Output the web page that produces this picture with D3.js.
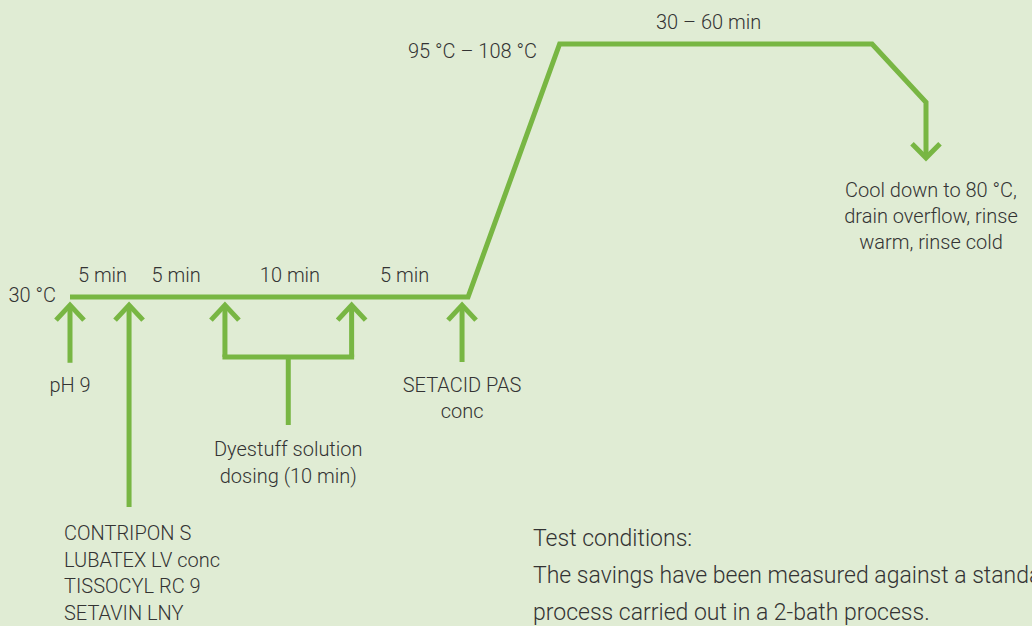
<!DOCTYPE html>
<html>
<head>
<meta charset="utf-8">
<script src="https://cdn.jsdelivr.net/npm/d3@7"></script>
<style>
  html, body { margin: 0; padding: 0; background: #e0ecd4; }
  svg text { font-family: Roboto, "Open Sans", sans-serif; font-weight: 300; fill: #333; }
</style>
</head>
<body>
<div id="chart"></div>
<script>
const W = 1032, H = 626;

// schematic process profile (x: stage position 0-100, y: level 0 = 30 °C, 100 = peak)
const profileX = [0, 46.5, 57.2, 93.7, 100, 100];
const profileY = [0, 0, 100, 100, 77, 55];

// dosing points along the 30 °C hold, with how far down the feed line goes
const dosingNames = ["pH 9", "auxiliaries", "dye start", "dye end", "SETACID PAS conc"];
const dosingX = [0, 6.9, 18.1, 32.9, 45.8];
const dosingTail = [-26, -83, -23.7, -23.7, -25.7];

// segment duration labels
const segLabels = ["5 min", "5 min", "10 min", "5 min", "30 – 60 min"];
const segX = [3.8, 12.4, 25.7, 39.1, 74.6];
const segY = [6.1, 6.1, 6.1, 6.1, 106.3];

const chemicals = ["CONTRIPON S", "LUBATEX LV conc", "TISSOCYL RC 9", "SETAVIN LNY"];
const coolText = ["Cool down to 80 °C,", "drain overflow, rinse", "warm, rinse cold"];
const testText = ["Test conditions:", "The savings have been measured against a standard",
                  "process carried out in a 2-bath process."];

const green = "#78b643";
const fs = 20;

const x = d3.scaleLinear().domain([0, 100]).range([70, 926]);
const y = d3.scaleLinear().domain([0, 100]).range([297, 44]);

const svg = d3.select("#chart").append("svg")
  .attr("width", W).attr("height", H)
  .style("display", "block");

svg.append("rect").attr("width", W).attr("height", H).attr("fill", "#e0ecd4");

const line = d3.line().x(d => x(d[0])).y(d => y(d[1]));

// temperature profile
svg.append("path")
  .attr("d", line(d3.zip(profileX, profileY)))
  .attr("fill", "none")
  .attr("stroke", green)
  .attr("stroke-width", 5)
  .attr("stroke-linejoin", "miter");

// down arrow head at end of profile
const endX = profileX[profileX.length - 1], endY = profileY[profileY.length - 1];
const ex = x(endX), ey = y(endY);
svg.append("path")
  .attr("d", `M${ex - 14},${ey - 14}L${ex},${ey}L${ex + 14},${ey - 14}`)
  .attr("fill", "none").attr("stroke", green).attr("stroke-width", 5);

// up arrows for dosing
const tipY = y(-3.2);
dosingX.forEach((dx, i) => {
  const px = x(dx);
  svg.append("path")
    .attr("d", `M${px - 14},${tipY + 15}L${px},${tipY}L${px + 14},${tipY + 15}`)
    .attr("fill", "none").attr("stroke", green).attr("stroke-width", 5);
  svg.append("line")
    .attr("x1", px).attr("x2", px)
    .attr("y1", tipY).attr("y2", y(dosingTail[i]))
    .attr("stroke", green).attr("stroke-width", 5);
});

// bracket joining the dye dosing arrows
const bY = y(dosingTail[2]);
svg.append("line")
  .attr("x1", x(dosingX[2]) - 2.5).attr("x2", x(dosingX[3]) + 2.5)
  .attr("y1", bY).attr("y2", bY)
  .attr("stroke", green).attr("stroke-width", 5);
const midX = (x(dosingX[2]) + x(dosingX[3])) / 2;
svg.append("line")
  .attr("x1", midX).attr("x2", midX)
  .attr("y1", bY).attr("y2", y(-50.6))
  .attr("stroke", green).attr("stroke-width", 5);

// segment labels
segLabels.forEach((t, i) => {
  svg.append("text")
    .attr("x", x(segX[i])).attr("y", y(segY[i]) + 0.5)
    .attr("text-anchor", "middle")
    .attr("font-size", fs)
    .text(t);
});

// temperature labels
svg.append("text").attr("x", 56).attr("y", 302)
  .attr("text-anchor", "end").attr("font-size", fs).text("30 °C");
svg.append("text").attr("x", 537).attr("y", 58)
  .attr("text-anchor", "end").attr("font-size", fs).text("95 °C – 108 °C");

// text blocks
function block(lines, px, py, anchor, size, lh) {
  const t = svg.append("text")
    .attr("x", px).attr("y", py)
    .attr("text-anchor", anchor)
    .attr("font-size", size);
  lines.forEach((l, i) => {
    t.append("tspan").attr("x", px).attr("y", py + i * lh).text(l);
  });
}

block(["pH 9"], x(dosingX[0]), 392, "middle", fs, 26);
block(["SETACID PAS", "conc"], x(dosingX[4]), 392, "middle", fs, 26);
block(["Dyestuff solution", "dosing (10 min)"], midX, 456, "middle", fs, 26.5);
block(chemicals, 64, 540, "start", fs, 26.7);
block(coolText, ex + 5, 197, "middle", fs, 26);
block(testText, 533, 546, "start", 23, 37);
</script>
</body>
</html>
